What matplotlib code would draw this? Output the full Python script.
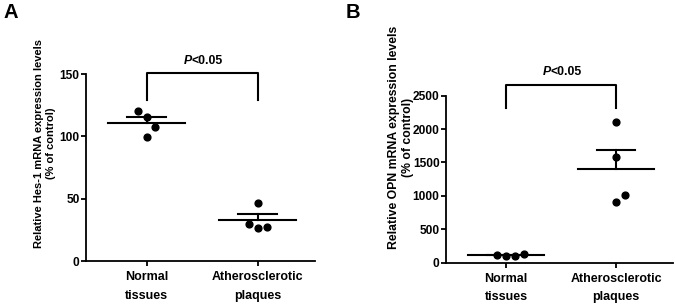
import numpy as np
import matplotlib
matplotlib.use('Agg')
import matplotlib.pyplot as plt

plt.rcParams['font.family'] = ['Liberation Sans', 'DejaVu Sans']
plt.rcParams['font.weight'] = 'bold'

# data
groups = ['Normal\ntissues', 'Atherosclerotic\nplaques']

hes1_normal = [120.5, 115.7, 107.2, 99.6]
hes1_plaque = [46.9, 29.5, 26.8, 27.3]

opn_normal = [115, 100, 105, 125]
opn_plaque = [2111, 1578, 1013, 909]

hes1_ylabel = 'Relative Hes-1 mRNA expression levels\n(% of control)'
opn_ylabel = 'Relative OPN mRNA expression levels\n(% of control)'
p_text = '<0.05'

# horizontal spread of the dots (dot-plot layout)
hes1_offsets = [[-0.08, 0, 0.08, 0], [0, -0.08, 0, 0.08]]
opn_offsets = [[-0.08, 0, 0.08, 0.16], [0, 0, 0.08, 0]]

fig = plt.figure(figsize=(6.75, 3.06), dpi=100)
axA = fig.add_axes([0.1274, 0.147, 0.3393, 0.611])
axB = fig.add_axes([0.6607, 0.1415, 0.336, 0.546])


def dot_panel(ax, data, offsets, ylim, yticks, ylabel, lab_x, lab_y, lab_size,
              br_top, br_bottom, p_y):
    for i, (vals, offs) in enumerate(zip(data, offsets)):
        vals = np.array(vals, dtype=float)
        ax.plot(i + np.array(offs), vals, 'o', color='black', ms=4.9,
                clip_on=False, zorder=3)
        m = vals.mean()
        sem = vals.std(ddof=1) / np.sqrt(len(vals))
        ax.plot([i - 0.345, i + 0.345], [m, m], color='black', lw=1.5)
        ax.plot([i, i], [m, m + sem], color='black', lw=1.5)
        ax.plot([i - 0.175, i + 0.175], [m + sem, m + sem], color='black', lw=1.5)

    # significance bracket
    ax.plot([0, 0, 1, 1], [br_bottom, br_top, br_top, br_bottom], color='black',
            lw=1.5, clip_on=False)
    ax.annotate('P', xy=(0.5, p_y), xytext=(-7.5, 0), textcoords='offset points',
                ha='right', va='center', fontsize=8.8, style='italic',
                fontweight='bold', annotation_clip=False)
    ax.annotate(p_text, xy=(0.5, p_y), xytext=(-7.5, 0), textcoords='offset points',
                ha='left', va='center', fontsize=8.8, fontweight='bold',
                annotation_clip=False)

    ax.set_xlim(-0.545, 1.515)
    ax.set_ylim(*ylim)
    ax.set_yticks(yticks)
    ax.set_xticks([0, 1])
    ax.set_xticklabels(groups, fontsize=9, fontweight='bold', linespacing=1.75)
    for t in ax.get_yticklabels():
        t.set_fontsize(8.6)
        t.set_fontweight('bold')
    ax.tick_params(axis='y', length=3.6, width=1.3, pad=1)
    ax.tick_params(axis='x', length=3.6, width=1.3, pad=3.5)
    ax.spines['top'].set_visible(False)
    ax.spines['right'].set_visible(False)
    for s in ['left', 'bottom']:
        ax.spines[s].set_linewidth(1.3)
    ax.text(lab_x, lab_y, ylabel, rotation=90, ha='center', va='center',
            multialignment='center', fontsize=lab_size, fontweight='bold',
            linespacing=1.25, transform=ax.transAxes)


dot_panel(axA, [hes1_normal, hes1_plaque], hes1_offsets, (0, 150), [0, 50, 100, 150],
          hes1_ylabel, -0.177, 0.631, 8.0, 151, 129, 160.5)
dot_panel(axB, [opn_normal, opn_plaque], opn_offsets, (0, 2500),
          [0, 500, 1000, 1500, 2000, 2500], opn_ylabel, -0.198, 0.75, 8.8,
          2665, 2311, 2860)

fig.text(3 / 675, 1 - 12 / 306, 'A', fontsize=14.5, fontweight='bold', ha='left', va='center')
fig.text(346 / 675, 1 - 12.5 / 306, 'B', fontsize=14.5, fontweight='bold', ha='left', va='center')

fig.savefig('out.png', dpi=100)
